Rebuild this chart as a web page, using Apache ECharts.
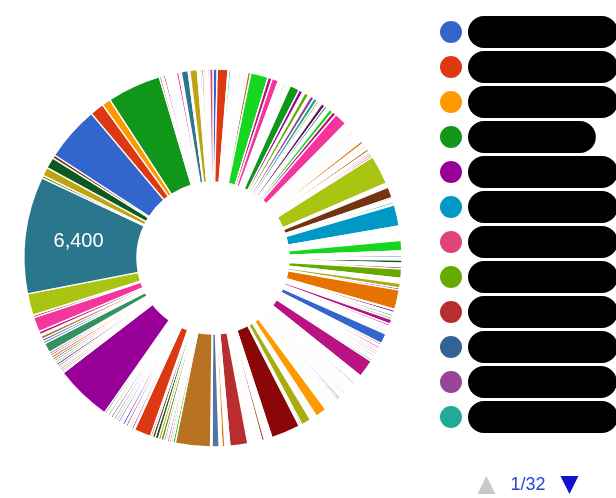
<!DOCTYPE html>
<html>
<head>
<meta charset="utf-8">
<script src="https://cdn.jsdelivr.net/npm/echarts@6/dist/echarts.min.js"></script>
<style>
html,body{margin:0;padding:0;background:#fff;}
#chart{width:616px;height:498px;}
</style>
</head>
<body>
<div id="chart"></div>
<script>
// Google-style 31 colour palette (slices cycle through it in data order)
const palette = ["#3366cc","#dc3912","#ff9900","#109618","#990099","#0099c6","#dd4477","#66aa00","#b82e2e","#316395","#994499","#22aa99","#aaaa11","#6633cc","#e67300","#8b0707","#651067","#329262","#5574a6","#3b3eac","#b77322","#16d620","#b91383","#f4359e","#9c5935","#a9c413","#2a778d","#668d1c","#bea413","#0c5922","#743411"];

// slice values, clockwise from 12 o'clock, split in four runs
const valuesA = [230,590,
  55,105,50,70,55,70,35,50,70,55,90,35,70,55,35,70,50,55,160,
  960,230,355,
  70,90,55,70,50,90,55,70,75,70,
  535,
  215,55,70,230,55,70,215,215,125,55,55,55,215,140,70,55,55,215,215,
  710,
  70,55,55,55,50,70,55,55,70,90,55,55,50,55,55,70,50,55,70,55,75,160,70,75,90,70,70,145,70,90,105,
  105,1600,
  55,70,50,55,
  605,
  90,70,75,105,70,
  1160];
const valuesB = [55,50,35,70,55,50,35,55,50,70,35,55,50,55,70,
  570,
  70,55,50,70,105,70,75,
  160,
  35,20,35,20,35,20,35,
  125,500,
  60,75,60,75,
  260,110,1060,
  55,125,55,70,110,55,110,265,125,55,70,55,70,100,50,50,
  570,
  105,70,25,105,30,90,25,90,30,90,25,30,90,25,30,25,30,25,30,25,
  105,980,
  70,55,70,50,55,70,55,50,105,55,50,70,55,70,50,75,55,50,70,55,90,50,55,50,70,55,105,90,55,70,50,55,70,55,50,75,55,50,55,90,70];
const valuesC = [625,
  35,40,55,35,40,35,40,55,35,
  535,
  90,70,
  1600,
  35,55,50,70,55,50,55,50,145,55,50,55,70,50,55,50,70,35,55,50,55,70,50,
  980,
  55,50,55,50,55,
  160,
  50,55,50,
  390,70,1920,
  140,90,105,110,90,105,160,145,180,160,105,
  925,
  35,30,115,35,30,95,35,30,125,35,30,125,35,30,35,30,35,110,30,105,35,110,30,35,115,30,35,30,100,35,30,35,110];
const valuesD = [3100,
  90,105,110,90,105,145,105,125,110,140,105,110,
  535,
  140,125,180,
  90,180,800,140,1190,6400,140,480,605,180,3000,765,480,2940,
  105,35,55,35,110,35,50,35,55,35,50,55,35,50,35,55,35,50,35,140,35,90,
  375,90,410,
  70,75,90,105,90,70,75,90,180];

const sliceValues = valuesA.concat(valuesB, valuesC, valuesD);
// legend names are redacted in the source; placeholder category names
const categories = sliceValues.map((v, i) => 'Account ' + String(i + 1).padStart(3, '0'));

// legend entries (the 4th redaction bar is shorter in the source)
const legendEntries = categories.map((name, i) =>
  i === 3 ? {name: name, textStyle: {padding: [8, 48, 8, 2]}} : name);

const chart = echarts.init(document.getElementById('chart'), null, {renderer: 'canvas'});
chart.setOption({
  animation: false,
  color: palette,
  legend: {
    type: 'scroll',
    orient: 'vertical',
    left: 438,
    top: 16,
    height: 478,
    padding: 0,
    itemWidth: 24,
    itemHeight: 24,
    itemGap: 3,
    icon: 'circle',
    data: legendEntries,
    textStyle: {
      color: '#000',
      backgroundColor: '#000',
      borderRadius: 16,
      padding: [8, 70, 8, 2],
      fontSize: 14,
      lineHeight: 16,
      fontFamily: 'Liberation Sans'
    },
    pageButtonPosition: 'end',
    pageButtonGap: 40,
    pageButtonItemGap: 12,
    pageIconSize: 18,
    pageIconColor: '#1212cc',
    pageIconInactiveColor: '#c8c8c8',
    pageTextStyle: {color: '#2b3fd6', fontSize: 18, fontFamily: 'Liberation Sans'}
  },
  series: [{
    type: 'pie',
    center: [213, 258],
    radius: [76, 189],
    startAngle: 90,
    clockwise: true,
    avoidLabelOverlap: false,
    itemStyle: {borderColor: '#ffffff', borderWidth: 1.4},
    label: {
      show: true,
      position: 'inside',
      formatter: p => (p.percent > 8 ? p.value.toLocaleString('en-US') : ''),
      color: '#ffffff',
      fontSize: 20,
      fontFamily: 'Liberation Sans'
    },
    labelLine: {show: false},
    emphasis: {disabled: true},
    data: categories.map((name, i) => ({name: name, value: sliceValues[i]}))
  }]
});
</script>
</body>
</html>
